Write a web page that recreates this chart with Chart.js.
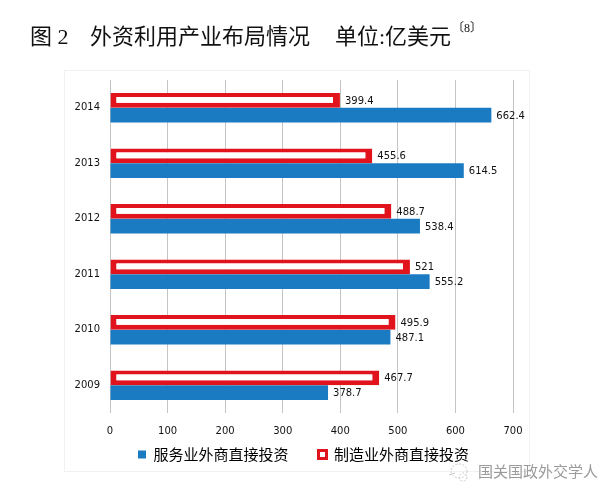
<!DOCTYPE html>
<html>
<head>
<meta charset="utf-8">
<script src="https://cdn.jsdelivr.net/npm/chart.js@4"></script>
<style>
  html, body { margin: 0; padding: 0; background: #fff; }
  #wrap { position: relative; width: 616px; height: 496px; overflow: hidden; }
  #c { position: absolute; left: 0; top: 0; }
  .t { position: absolute; white-space: pre; color: #111; font-family: "Liberation Serif", "Noto Sans CJK SC", serif; }
  #frame { position: absolute; left: 64px; top: 70px; width: 464px; height: 400px; border: 1px solid #f1f1f1; }
  #wm { position: absolute; left: 478px; top: 461px; font: 15px "Noto Sans CJK SC", sans-serif; color: #9a9a9a; white-space: pre; line-height: 20px; }
  #wmi { position: absolute; left: 447px; top: 461px; }
</style>
</head>
<body>
<div id="wrap">
  <div id="frame"></div>
  <canvas id="c" width="616" height="496"></canvas>
  <div class="t" style="left:30px; top:24px; font-size:22px; line-height:26px;">图 2</div>
  <div class="t" style="left:90px; top:24px; font-size:22px; line-height:26px;">外资利用产业布局情况</div>
  <div class="t" style="left:335px; top:24px; font-size:22px; line-height:26px;">单位:亿美元</div>
  <div class="t" style="left:452px; top:21px; font-size:12px; line-height:14px;">〔8〕</div>
  <svg id="wmi" width="26" height="22" viewBox="0 0 26 22">
    <ellipse cx="12" cy="10" rx="8" ry="7" fill="none" stroke="#c8c8c8" stroke-width="1" stroke-dasharray="2 1.5"/>
    <path d="M2 14 L8 12" stroke="#c8c8c8" stroke-width="1"/>
    <circle cx="16" cy="16" r="4" fill="none" stroke="#c8c8c8" stroke-width="1" stroke-dasharray="2 1.5"/>
  </svg>
  <div id="wm">国关国政外交学人</div>
</div>
<script>
const years = ['2009', '2010', '2011', '2012', '2013', '2014'];
const serviceFDI = [378.7, 487.1, 555.2, 538.4, 614.5, 662.4];
const manufacturingFDI = [467.7, 495.9, 521, 488.7, 455.6, 399.4];
const xTicks = [0, 100, 200, 300, 400, 500, 600, 700];
const seriesNames = ['服务业外商直接投资', '制造业外商直接投资'];

const BLUE = '#1b7bc2';
const RED = '#e1131c';

const valueLabels = {
  id: 'valueLabels',
  afterDatasetsDraw(chart) {
    const ctx = chart.ctx;
    ctx.save();
    ctx.font = '10px "DejaVu Sans", sans-serif';
    ctx.fillStyle = '#111';
    ctx.textAlign = 'left';
    ctx.textBaseline = 'middle';
    chart.data.datasets.forEach((ds, di) => {
      const meta = chart.getDatasetMeta(di);
      meta.data.forEach((bar, i) => {
        ctx.fillText(String(ds.data[i]), bar.x + 5, bar.y + 1);
      });
    });
    ctx.restore();
  }
};

// move the library legend box to the spot it occupies in the reference
const legendShift = {
  id: 'legendShift',
  beforeDraw(chart) {
    const lg = chart.legend;
    if (!lg || lg._shifted) return;
    const dx = 47, dy = -24;
    lg.left += dx; lg.right += dx;
    lg.top += dy; lg.bottom += dy;
    lg._shifted = true;
  }
};

new Chart(document.getElementById('c'), {
  type: 'bar',
  data: {
    labels: years,
    datasets: [
      {
        label: seriesNames[1],
        data: manufacturingFDI,
        backgroundColor: '#ffffff',
        borderColor: RED,
        borderWidth: { top: 4, bottom: 5, left: 6, right: 7 },
        borderSkipped: false,
        categoryPercentage: 0.53,
        barPercentage: 1.0
      },
      {
        label: seriesNames[0],
        data: serviceFDI,
        backgroundColor: BLUE,
        borderWidth: 0,
        categoryPercentage: 0.53,
        barPercentage: 1.0
      }
    ]
  },
  options: {
    indexAxis: 'y',
    responsive: false,
    animation: false,
    layout: { padding: { left: 0, right: 103, top: 80, bottom: 0 } },
    scales: {
      x: {
        min: 0, max: 700,
        afterBuildTicks(scale) { scale.ticks = xTicks.map(v => ({ value: v })); },
        grid: { color: '#c4c4c4', lineWidth: 1, drawTicks: false },
        border: { display: false },
        ticks: { color: '#111', font: { family: '"DejaVu Sans", sans-serif', size: 10 }, padding: 12 },
        afterFit(scale) { scale.height = 28; }
      },
      y: {
        reverse: true,
        grid: { display: false, drawTicks: false },
        border: { display: false },
        ticks: { color: '#111', font: { family: '"DejaVu Sans", sans-serif', size: 10 }, padding: 10 },
        afterFit(scale) { scale.width = 110; }
      }
    },
    plugins: {
      legend: {
        position: 'bottom',
        labels: {
          font: { family: '"Noto Sans CJK SC", sans-serif', size: 15 },
          color: '#333',
          boxWidth: 8,
          boxHeight: 8,
          padding: 30,
          sort: (a, b) => b.datasetIndex - a.datasetIndex,
          generateLabels(chart) {
            return chart.data.datasets.map((ds, i) => ({
              text: ds.label,
              fillStyle: i === 0 ? '#ffffff' : BLUE,
              strokeStyle: i === 0 ? RED : BLUE,
              lineWidth: i === 0 ? 3 : 0,
              datasetIndex: i,
              hidden: false
            }));
          }
        }
      },
      tooltip: { enabled: false }
    }
  },
  plugins: [valueLabels, legendShift]
});
</script>
</body>
</html>
